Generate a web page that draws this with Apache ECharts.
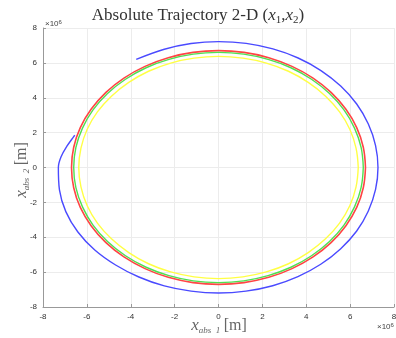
<!DOCTYPE html>
<html>
<head>
<meta charset="utf-8">
<script src="https://cdn.jsdelivr.net/npm/echarts@6/dist/echarts.min.js"></script>
<style>
  html, body { margin: 0; padding: 0; background: #fff; }
  #main { width: 396px; height: 338px; }
</style>
</head>
<body>
<div id="main"></div>
<script>
// values in units of 1e6 m

// blue: perturbed orbit, starts top-left and goes clockwise, ends where it meets the red one
var blueX = [-3.75, -2.47, -1.25, 0, 1.26, 2.48, 3.63, 4.67, 5.57, 6.30, 6.83, 7.16, 7.27, 7.16, 6.83, 6.30, 5.56, 4.66, 3.62, 2.47, 1.25, 0, -1.25, -2.47, -3.63, -4.69, -5.64, -6.41, -6.96, -7.25, -7.3, -7.17, -6.91, -6.6, -6.55];
var blueY = [6.2, 6.78, 7.11, 7.22, 7.12, 6.80, 6.28, 5.56, 4.67, 3.64, 2.49, 1.26, 0, -1.26, -2.49, -3.64, -4.67, -5.55, -6.26, -6.78, -7.09, -7.2, -7.09, -6.79, -6.28, -5.59, -4.73, -3.70, -2.53, -1.28, 0, 0.63, 1.22, 1.77, 1.85];

// red / green / yellow: nearly circular orbits, 10 degree steps
var redX = [6.7, 6.6, 6.3, 5.8, 5.13, 4.31, 3.35, 2.29, 1.16, 0, -1.16, -2.29, -3.35, -4.31, -5.13, -5.8, -6.3, -6.6, -6.7, -6.6, -6.3, -5.8, -5.13, -4.31, -3.35, -2.29, -1.16, 0, 1.16, 2.29, 3.35, 4.31, 5.13, 5.8, 6.3, 6.6, 6.7];
var redY = [0, 1.16, 2.29, 3.35, 4.31, 5.13, 5.8, 6.3, 6.6, 6.7, 6.6, 6.3, 5.8, 5.13, 4.31, 3.35, 2.29, 1.16, 0, -1.16, -2.29, -3.35, -4.31, -5.13, -5.8, -6.3, -6.6, -6.7, -6.6, -6.3, -5.8, -5.13, -4.31, -3.35, -2.29, -1.16, 0];
var greenX = [6.6, 6.5, 6.2, 5.72, 5.06, 4.24, 3.3, 2.26, 1.15, 0, -1.15, -2.26, -3.3, -4.24, -5.06, -5.72, -6.2, -6.5, -6.6, -6.5, -6.2, -5.72, -5.06, -4.24, -3.3, -2.26, -1.15, 0, 1.15, 2.26, 3.3, 4.24, 5.06, 5.72, 6.2, 6.5, 6.6];
var greenY = [0, 1.15, 2.26, 3.3, 4.24, 5.06, 5.72, 6.2, 6.5, 6.6, 6.5, 6.2, 5.72, 5.06, 4.24, 3.3, 2.26, 1.15, 0, -1.15, -2.26, -3.3, -4.24, -5.06, -5.72, -6.2, -6.5, -6.6, -6.5, -6.2, -5.72, -5.06, -4.24, -3.3, -2.26, -1.15, 0];
var yellowX = [6.37, 6.27, 5.99, 5.52, 4.88, 4.09, 3.19, 2.18, 1.11, 0, -1.11, -2.18, -3.19, -4.09, -4.88, -5.52, -5.99, -6.27, -6.37, -6.27, -5.99, -5.52, -4.88, -4.09, -3.19, -2.18, -1.11, 0, 1.11, 2.18, 3.19, 4.09, 4.88, 5.52, 5.99, 6.27, 6.37];
var yellowY = [0, 1.11, 2.18, 3.19, 4.09, 4.88, 5.52, 5.99, 6.27, 6.37, 6.27, 5.99, 5.52, 4.88, 4.09, 3.19, 2.18, 1.11, 0, -1.11, -2.18, -3.19, -4.09, -4.88, -5.52, -5.99, -6.27, -6.37, -6.27, -5.99, -5.52, -4.88, -4.09, -3.19, -2.18, -1.11, 0];

function pairs(xs, ys) {
    var out = [];
    for (var i = 0; i < xs.length; i++) out.push([xs[i], ys[i]]);
    return out;
}

var chart = echarts.init(document.getElementById('main'));

var serif = '"Liberation Serif", "DejaVu Serif", serif';
var labelRich = {
    i: { fontFamily: serif, fontStyle: 'italic', fontSize: 17, color: '#666', fill: '#666' },
    s: { fontFamily: serif, fontStyle: 'italic', fontSize: 9, color: '#666', fill: '#666', padding: [9, 0, 0, 0] },
    n: { fontFamily: serif, fontSize: 16, color: '#666', fill: '#666' }
};

function axisCommon() {
    return {
        type: 'value',
        min: -8, max: 8, interval: 2,
        axisLine: { show: true, onZero: false, lineStyle: { color: '#999', width: 1 } },
        axisTick: { show: true, inside: true, length: 3, lineStyle: { color: '#999' } },
        axisLabel: { color: '#333', fontSize: 8, margin: 6, fontFamily: 'Liberation Sans, Arial, sans-serif' },
        splitLine: { show: true, lineStyle: { color: '#ececec', width: 1 } }
    };
}

var xAxis = axisCommon();
var yAxis = axisCommon();

var times6 = {
    text: '×10{s|6}', fill: '#444', fontSize: 8, fontFamily: 'Liberation Sans, sans-serif',
    rich: { s: { fontSize: 6, fill: '#444', padding: [0, 0, 4, 0] } }
};

var option = {
    animation: false,
    title: {
        text: '{n|Absolute Trajectory 2-D (}{i|x}{s|1}{n|,}{i|x}{s|2}{n|)}',
        left: 'center',
        top: 1,
        textStyle: {
            fontWeight: 'normal',
            rich: {
                n: { fontFamily: serif, fontSize: 17, fontWeight: 'normal', color: '#333' },
                i: { fontFamily: serif, fontStyle: 'italic', fontSize: 17, fontWeight: 'normal', color: '#333' },
                s: { fontFamily: serif, fontSize: 11, fontWeight: 'normal', color: '#333', padding: [9, 0, 0, 0] }
            }
        }
    },
    grid: { left: 43, right: 2, top: 28, bottom: 31, containLabel: false, outerBoundsMode: 'none' },
    xAxis: xAxis,
    yAxis: yAxis,
    graphic: [
        { type: 'text', left: 45, top: 19, style: times6 },
        { type: 'text', left: 377, top: 322, style: times6 },
        {
            // x axis title
            type: 'text', x: 219, y: 326,
            style: {
                text: '{i|x}{s|abs  1} {n|[m]}',
                align: 'center', verticalAlign: 'middle',
                rich: labelRich
            }
        },
        {
            // y axis title, rotated
            type: 'text', x: 22, y: 170, rotation: Math.PI / 2,
            style: {
                text: '{i|x}{s|abs  2} {n|[m]}',
                align: 'center', verticalAlign: 'middle',
                rich: labelRich
            }
        }
    ],
    series: [
        { type: 'line', data: pairs(blueX, blueY), smooth: 0.35, showSymbol: false,
          lineStyle: { color: '#4a4aff', width: 1.4 } },
        { type: 'line', data: pairs(redX, redY), smooth: 0.4, showSymbol: false,
          lineStyle: { color: '#ff4545', width: 1.6 } },
        { type: 'line', data: pairs(greenX, greenY), smooth: 0.4, showSymbol: false,
          lineStyle: { color: '#4fe04f', width: 1.4 } },
        { type: 'line', data: pairs(yellowX, yellowY), smooth: 0.4, showSymbol: false,
          lineStyle: { color: '#ffff44', width: 1.4 } }
    ]
};

chart.setOption(option);
</script>
</body>
</html>
